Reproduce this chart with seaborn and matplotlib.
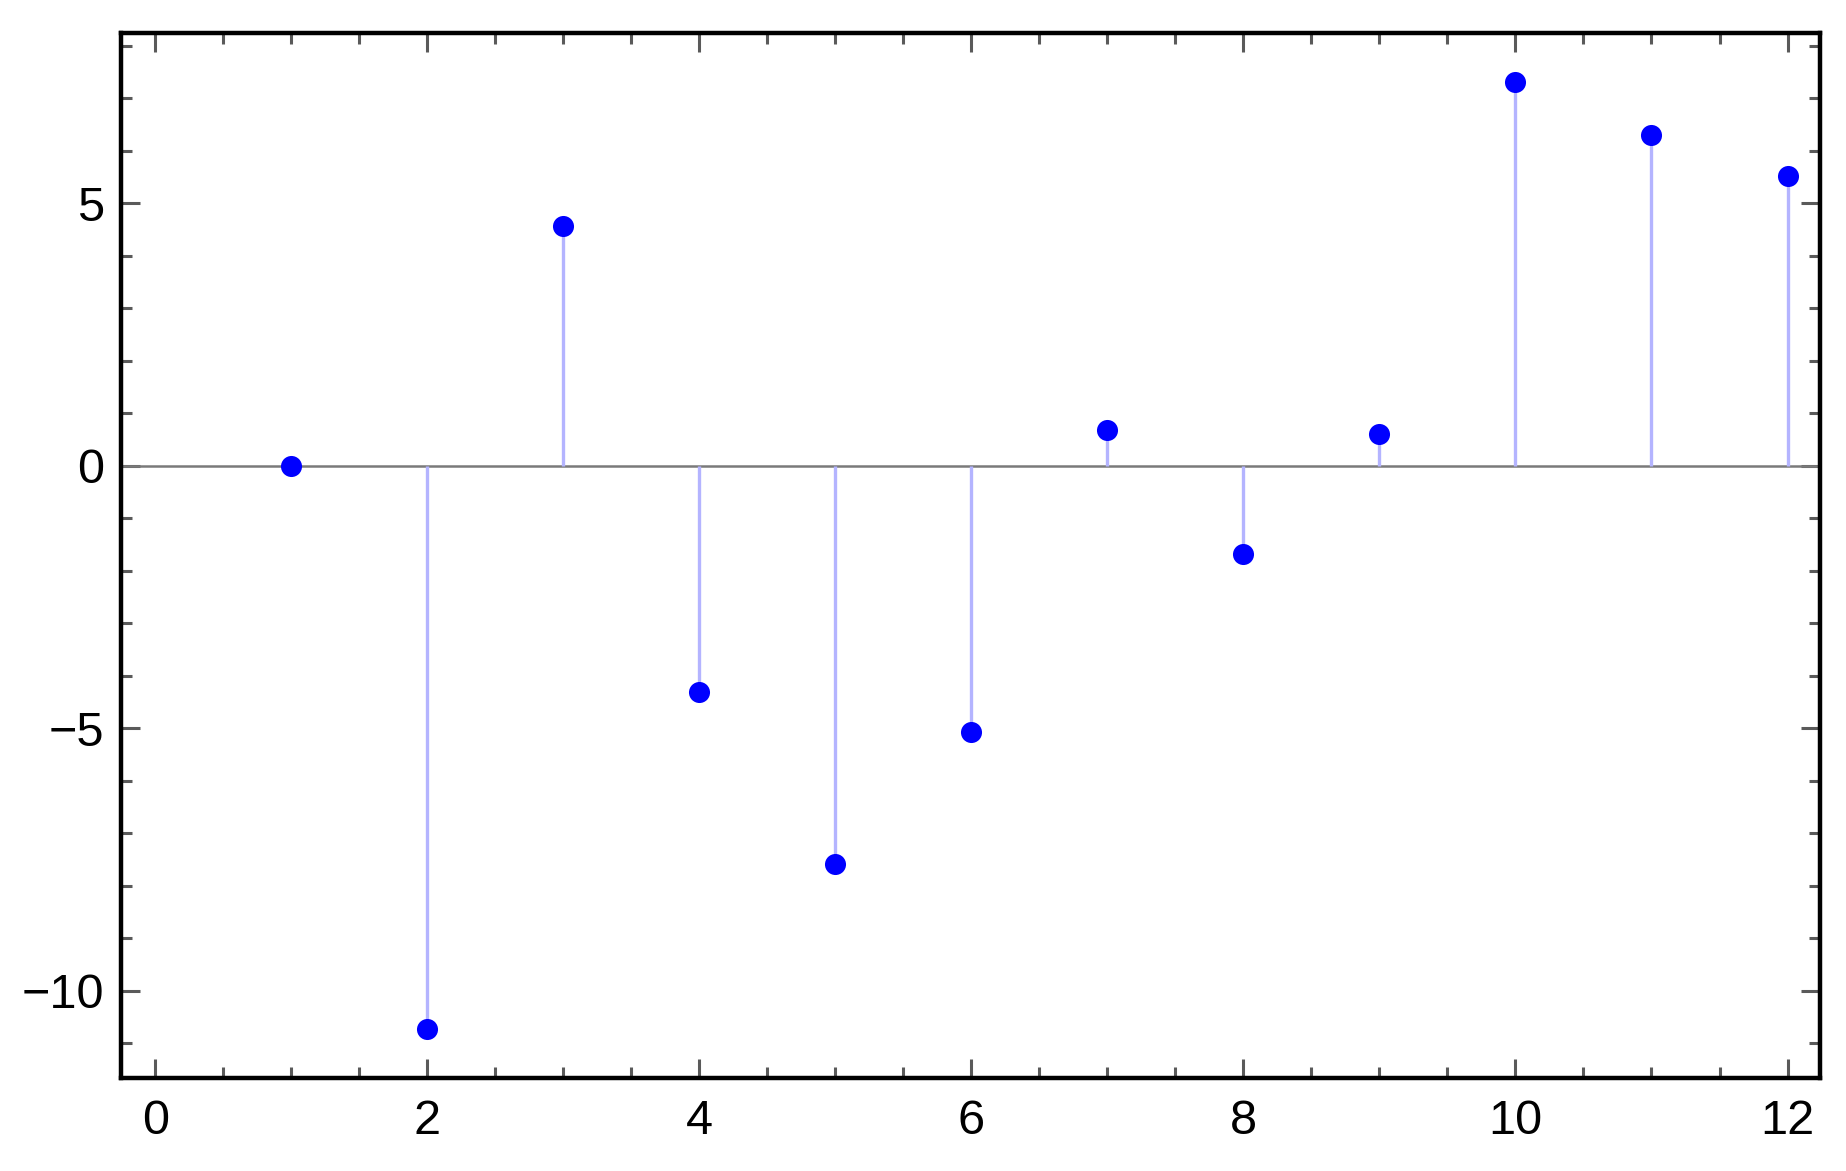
import matplotlib
matplotlib.use("Agg")
import matplotlib.pyplot as plt
import seaborn as sns
import pandas as pd
from matplotlib.ticker import MultipleLocator

# data
x_vals = [1, 2, 3, 4, 5, 6, 7, 8, 9, 10, 11, 12]
y_vals = [0.0, -10.72, 4.57, -4.30, -7.59, -5.07, 0.69, -1.67, 0.60, 7.31, 6.31, 5.53]

df = pd.DataFrame({"x": x_vals, "y": y_vals})

sns.set_style("ticks")
plt.rcParams["font.family"] = ["Liberation Sans", "DejaVu Sans"]

fig = plt.figure(figsize=(18.46, 11.71), dpi=100)
ax = fig.add_axes([0.0657, 0.0794, 0.9203, 0.8926])

# zero line and stems
ax.axhline(0, color="#7a7a7a", lw=1.8, zorder=1)
ax.vlines(df["x"], 0, df["y"], color="#b4b4ff", lw=2.4, zorder=2)

sns.scatterplot(data=df, x="x", y="y", ax=ax, color="#0000ff", s=230,
                linewidth=0, zorder=3, legend=False)

ax.set_xlim(-0.25, 12.24)
ax.set_ylim(-11.66, 8.25)

ax.xaxis.set_major_locator(MultipleLocator(2))
ax.xaxis.set_minor_locator(MultipleLocator(0.5))
ax.yaxis.set_major_locator(MultipleLocator(5))
ax.yaxis.set_minor_locator(MultipleLocator(1))

ax.set_yticks([-10, -5, 0, 5])
ax.set_yticklabels(["\u221210", "\u22125", "0", "5"])

ax.tick_params(which="both", direction="in", top=True, right=True,
               color="#5a5a5a", labelsize=35, labelcolor="black")
ax.tick_params(which="major", length=13.5, width=2.2)
ax.tick_params(which="minor", length=8, width=2.2)
ax.tick_params(axis="x", which="major", pad=15)
ax.tick_params(axis="y", which="major", pad=12)

for sp in ax.spines.values():
    sp.set_color("black")
    sp.set_linewidth(3.2)

ax.set_xlabel("")
ax.set_ylabel("")

fig.savefig("out.png", dpi=100)
